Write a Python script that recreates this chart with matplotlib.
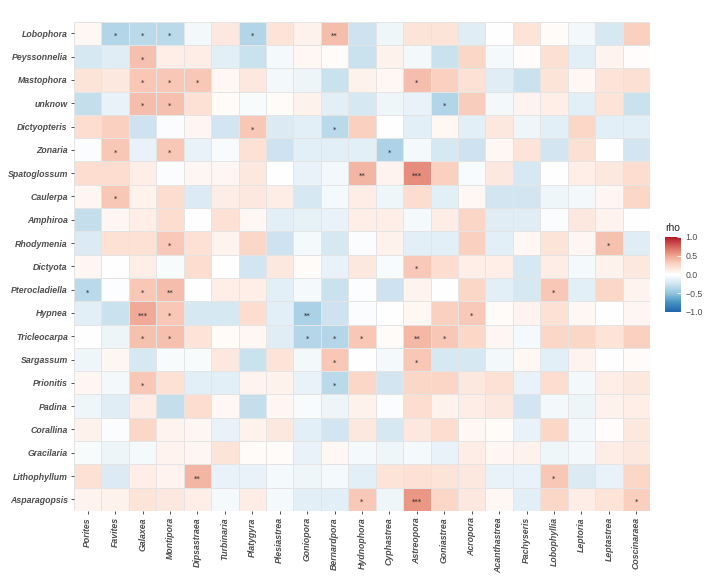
import numpy as np
import matplotlib
matplotlib.use("Agg")
import matplotlib.pyplot as plt
from matplotlib.colors import LinearSegmentedColormap

algae = ["Lobophora", "Peyssonnelia", "Mastophora", "unknow", "Dictyopteris",
         "Zonaria", "Spatoglossum", "Caulerpa", "Amphiroa", "Rhodymenia",
         "Dictyota", "Pterocladiella", "Hypnea", "Tricleocarpa", "Sargassum",
         "Prionitis", "Padina", "Corallina", "Gracilaria", "Lithophyllum",
         "Asparagopsis"]

corals = ["Porites", "Favites", "Galaxea", "Montipora", "Dipsastraea",
          "Turbinaria", "Platygyra", "Plesiastrea", "Goniopora", "Bernardpora",
          "Hydnophora", "Cyphastrea", "Astreopora", "Goniastrea", "Acropora",
          "Acanthastrea", "Pachyseris", "Lobophyllia", "Leptoria", "Leptastrea",
          "Coscinaraea"]

# spearman rho, rows = algae, cols = corals
rho = [
    [0.05, -0.37, -0.34, -0.34, -0.07, 0.15, -0.37, 0.18, 0.09, 0.39, -0.26, -0.09, 0.18, 0.18, -0.17, 0.00, 0.18, 0.03, -0.07, -0.22, 0.29],
    [-0.22, -0.17, 0.37, 0.11, 0.12, -0.15, -0.28, -0.06, 0.05, 0.03, -0.28, 0.09, -0.07, -0.28, 0.26, -0.06, 0.02, 0.21, -0.15, 0.08, 0.02],
    [0.18, 0.15, 0.34, 0.34, 0.34, 0.05, 0.15, -0.07, -0.10, -0.28, 0.09, 0.05, 0.39, 0.29, 0.20, -0.17, -0.28, 0.18, 0.05, 0.18, 0.21],
    [-0.30, -0.12, 0.39, 0.37, 0.20, 0.03, -0.04, 0.03, 0.09, -0.15, -0.22, -0.09, -0.12, -0.37, 0.31, -0.07, 0.08, 0.11, -0.15, 0.18, -0.28],
    [0.23, 0.29, -0.26, -0.03, 0.06, -0.25, 0.34, -0.19, -0.15, -0.34, 0.29, 0.00, -0.15, 0.05, -0.15, 0.15, -0.09, -0.15, 0.26, -0.15, -0.15],
    [-0.03, 0.34, -0.12, 0.34, -0.12, -0.04, 0.20, -0.26, -0.15, -0.15, -0.15, -0.39, -0.06, -0.22, -0.26, 0.05, 0.18, -0.25, 0.21, 0.00, -0.25],
    [0.23, 0.23, 0.11, -0.03, 0.06, 0.06, 0.15, 0.00, -0.12, -0.07, 0.42, 0.08, 0.59, 0.29, -0.04, 0.15, -0.22, 0.00, 0.11, 0.15, 0.23],
    [0.06, 0.34, 0.09, 0.23, -0.19, 0.12, 0.15, 0.12, -0.22, -0.06, 0.12, -0.09, 0.23, -0.15, 0.05, -0.25, -0.25, -0.09, -0.07, 0.06, 0.26],
    [-0.30, 0.06, 0.11, 0.23, 0.00, 0.20, 0.05, -0.15, -0.13, -0.12, 0.11, 0.11, -0.06, 0.12, 0.27, -0.17, -0.17, -0.03, 0.15, 0.08, 0.00],
    [-0.19, 0.20, 0.20, 0.33, 0.20, 0.08, 0.26, -0.26, -0.06, -0.22, -0.03, 0.09, -0.15, -0.15, 0.29, -0.15, 0.05, 0.18, 0.06, 0.36, -0.17],
    [0.05, 0.00, 0.11, -0.04, 0.23, 0.00, -0.25, 0.15, 0.03, -0.12, 0.15, -0.04, 0.33, 0.23, 0.11, 0.11, -0.22, 0.12, -0.06, 0.09, 0.15],
    [-0.34, -0.02, 0.34, 0.39, 0.00, 0.11, 0.11, -0.15, -0.06, -0.28, -0.02, -0.26, 0.08, 0.00, 0.26, -0.15, -0.22, 0.34, -0.15, 0.26, 0.08],
    [-0.15, -0.28, 0.47, 0.34, -0.22, -0.22, 0.23, -0.15, -0.40, -0.26, -0.03, 0.00, 0.05, 0.29, 0.33, 0.03, 0.08, 0.20, 0.05, 0.00, 0.06],
    [0.00, -0.10, 0.36, 0.37, 0.18, 0.03, 0.05, -0.17, -0.36, -0.36, 0.34, 0.03, 0.41, 0.34, 0.26, 0.06, -0.06, 0.26, 0.26, 0.18, 0.29],
    [-0.09, 0.06, -0.22, -0.04, -0.04, 0.15, -0.28, 0.18, -0.07, 0.34, 0.00, -0.06, 0.34, -0.22, -0.22, -0.07, 0.05, -0.15, 0.08, 0.00, 0.03],
    [0.06, -0.07, 0.34, 0.20, -0.15, -0.15, 0.08, 0.09, -0.12, -0.34, 0.26, -0.25, 0.26, 0.27, 0.15, 0.20, -0.12, 0.23, -0.07, 0.11, 0.15],
    [-0.09, -0.17, 0.12, -0.30, 0.23, 0.05, -0.30, 0.05, -0.04, -0.10, 0.09, -0.03, 0.23, 0.09, 0.12, 0.15, -0.25, -0.07, -0.10, 0.09, 0.11],
    [0.09, -0.03, 0.26, 0.08, 0.06, -0.12, 0.09, 0.15, -0.15, -0.25, 0.15, -0.22, 0.15, 0.23, 0.05, 0.03, -0.12, 0.26, -0.07, 0.02, 0.15],
    [-0.04, -0.10, -0.06, 0.08, 0.06, 0.18, 0.03, 0.03, -0.12, 0.05, -0.06, -0.09, -0.06, -0.12, 0.12, 0.05, 0.09, -0.09, -0.07, 0.12, 0.15],
    [0.20, -0.19, 0.11, 0.08, 0.42, -0.12, -0.12, -0.06, -0.09, -0.06, -0.15, 0.18, 0.20, 0.18, 0.15, -0.12, -0.12, 0.34, -0.19, -0.12, 0.26],
    [0.08, 0.09, 0.18, 0.15, 0.11, -0.06, 0.12, -0.06, -0.15, -0.15, 0.33, -0.09, 0.55, 0.26, 0.15, 0.05, -0.15, 0.26, 0.12, 0.18, 0.30],
]

# significance stars, (row, col) -> label
stars = {
    (0, 1): "*", (0, 2): "*", (0, 3): "*", (0, 6): "*", (0, 9): "**",
    (1, 2): "*",
    (2, 2): "*", (2, 3): "*", (2, 4): "*", (2, 12): "*",
    (3, 2): "*", (3, 3): "*", (3, 13): "*",
    (4, 6): "*", (4, 9): "*",
    (5, 1): "*", (5, 3): "*", (5, 11): "*",
    (6, 10): "**", (6, 12): "***",
    (7, 1): "*",
    (9, 3): "*", (9, 19): "*",
    (10, 12): "*",
    (11, 0): "*", (11, 2): "*", (11, 3): "**", (11, 17): "*",
    (12, 2): "***", (12, 3): "*", (12, 8): "**", (12, 14): "*",
    (13, 2): "*", (13, 3): "*", (13, 8): "*", (13, 9): "*", (13, 10): "*",
    (13, 12): "**", (13, 13): "*",
    (14, 9): "*", (14, 12): "*",
    (15, 2): "*", (15, 9): "*",
    (19, 4): "**", (19, 17): "*",
    (20, 10): "*", (20, 12): "***", (20, 20): "*",
}

# RdBu-like diverging palette, white in the middle, red side a bit pinker
cmap = LinearSegmentedColormap.from_list("rdbu", [
    "#2166AC", "#4393C3", "#92C5DE", "#D1E5F0", "#FFFFFF",
    "#FCDACB", "#F0A591", "#D6645A", "#B2182B"])

fig = plt.figure(figsize=(7.09, 5.86), dpi=100)
ax = fig.add_axes([0.1044, 0.128, 0.8124, 0.835])

mesh = ax.pcolormesh(np.array(rho), cmap=cmap, vmin=-1, vmax=1,
                     edgecolors="#e4e4e4", linewidth=0.4)
ax.set_xlim(0, len(corals))
ax.set_ylim(len(algae), 0)

for (r, c), s in stars.items():
    ax.text(c + 0.5, r + 0.62, s, ha="center", va="center", fontsize=5, color="#222222")

font = dict(family="Liberation Sans", weight="bold", style="italic", color="#4d4d4d")
ax.set_xticks(np.arange(len(corals)) + 0.5)
ax.set_xticklabels(corals, rotation=90, fontsize=6.3, **font)
ax.set_yticks(np.arange(len(algae)) + 0.5)
ax.set_yticklabels(algae, fontsize=6.3, **font)
ax.tick_params(length=2.5, width=0.6, color="#333333", pad=2)
for sp in ax.spines.values():
    sp.set_visible(False)

cax = fig.add_axes([0.938, 0.4676, 0.0226, 0.128])
cb = fig.colorbar(mesh, cax=cax, ticks=[-1, -0.5, 0, 0.5, 1])
cb.outline.set_visible(False)
cb.ax.set_yticklabels(["\u22121.0", "\u22120.5", "0.0", "0.5", "1.0"])
cb.ax.tick_params(length=3, width=0.6, color="white", direction="in", labelsize=6.3,
                  labelcolor="#4d4d4d", pad=3)
for t in cb.ax.get_yticklabels():
    t.set_family("Liberation Sans")
fig.text(0.938, 0.603, "rho", fontsize=7.5, family="Liberation Sans", color="#222222",
         ha="left", va="bottom")

plt.savefig("out.png", dpi=100)
plt.close()
